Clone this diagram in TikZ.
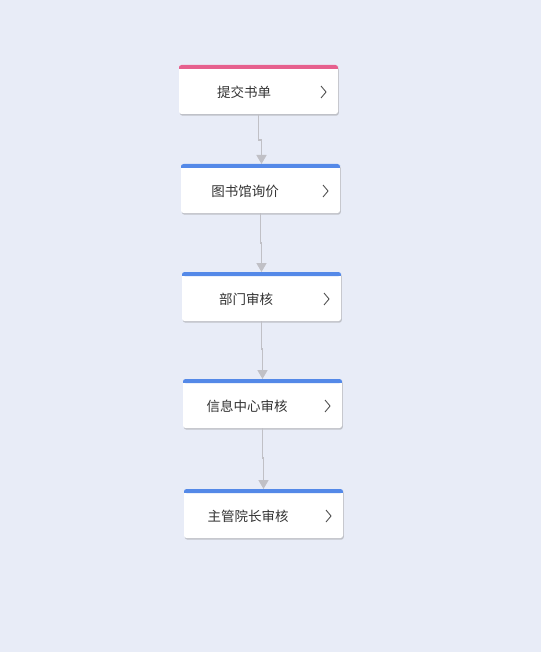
\documentclass[tikz,border=0pt]{standalone}
\usepackage{fontspec}
\newfontfamily\cjk{Noto Sans CJK SC}
\usetikzlibrary{arrows.meta,shadows}
\definecolor{bg}{RGB}{232,236,247}
\definecolor{pinkbar}{RGB}{230,96,142}
\definecolor{bluebar}{RGB}{84,137,232}
\definecolor{linegray}{RGB}{192,192,198}
\definecolor{txt}{RGB}{51,51,51}
\tikzset{
  card/.style={fill=white, rounded corners=2.5pt, minimum width=159pt, minimum height=49pt, inner sep=0pt, outer sep=0pt,
    drop shadow={shadow xshift=0.8pt, shadow yshift=-1.6pt, opacity=0.35, fill=black!55}},
  lbl/.style={font=\cjk\fontsize{13.5}{15}\selectfont, text=txt, anchor=center},
  chev/.style={draw=txt!85, line width=0.9pt},
  conn/.style={draw=linegray, line width=1.6pt, -{Triangle[width=10pt,length=9pt]}},
}
\newcommand\mycard[6]{%
  \node[card] (#1) at (#2+79.5,#3+24.5) {};
  \fill[#4, rounded corners=2.5pt] (#1.north west) rectangle ++(159,4);
  \fill[#4] ([yshift=-2pt]#1.north west) rectangle ++(159,2);
  \node[lbl] (#1t) at (#6,#3+27) {#5};
  \draw[chev] ([xshift=-17pt,yshift=-21pt]#1.north east) -- ++(5,6) -- ++(-5,6);
}
\begin{document}
\begin{tikzpicture}[x=1pt,y=-1pt]
\fill[bg] (0,0) rectangle (541,652);
\useasboundingbox (0,0) rectangle (541,652);
\mycard{a}{179}{65}{pinkbar}{提交书单}{244}
\mycard{b}{181}{164}{bluebar}{图书馆询价}{245}
\mycard{c}{182}{272}{bluebar}{部门审核}{246}
\mycard{d}{183}{379}{bluebar}{信息中心审核}{247}
\mycard{e}{184}{489}{bluebar}{主管院长审核}{248}
\draw[conn] (a.south) -- ++(0,26) -| ([xshift=1pt]b.north);
\draw[conn] (b.south) -- ++(0,30) -| ([xshift=0pt]c.north);
\draw[conn] (c.south) -- ++(0,28) -| ([xshift=0pt]d.north);
\draw[conn] (d.south) -- ++(0,30) -| ([xshift=0pt]e.north);
\end{tikzpicture}
\end{document}
